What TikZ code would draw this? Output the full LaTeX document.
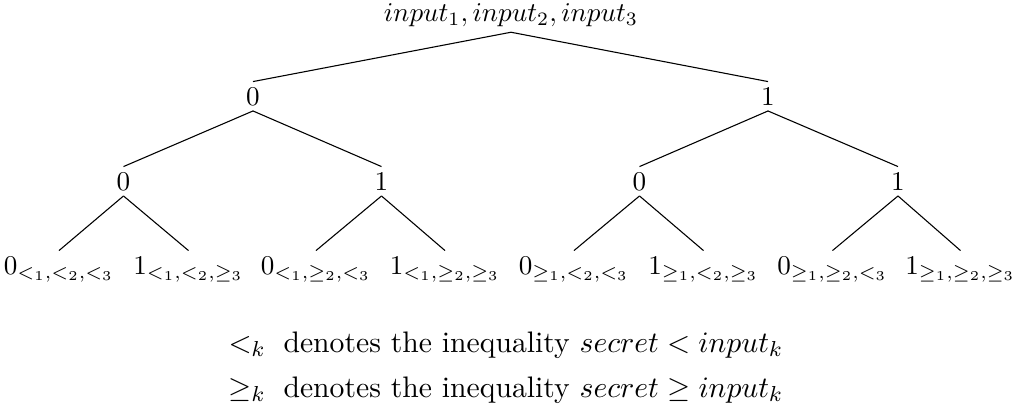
\documentclass[tikz,border=0pt]{standalone}
\begin{document}
\begin{tikzpicture}[x=0.369pt,y=-0.369pt,
  rootnode/.style={font=\normalsize, inner sep=2pt, anchor=base},
  tnode/.style={font=\normalsize, inner sep=2pt, anchor=base},
  legend/.style={anchor=base west, inner sep=0pt, font=\fontsize{10.95}{13.6}\selectfont},
  edge/.style={draw=black, line width=0.4pt}]
\useasboundingbox (0,0) rectangle (1015,413);
% root
\node[rootnode] (r) at (511,21) {$input_1, input_2, input_3$};
% level 1
\node[tnode] (a0) at (253,105) {$0$};
\node[tnode] (a1) at (768,105) {$1$};
% level 2
\node[tnode] (b00) at (123.5,190) {$0$};
\node[tnode] (b01) at (381.5,190) {$1$};
\node[tnode] (b10) at (639.5,190) {$0$};
\node[tnode] (b11) at (898,190) {$1$};
% leaves
\node[tnode] (c000) at (59,274) {$0_{<_1,<_2,<_3}$};
\node[tnode] (c001) at (188.5,274) {$1_{<_1,<_2,\geq_3}$};
\node[tnode] (c010) at (316,274) {$0_{<_1,\geq_2,<_3}$};
\node[tnode] (c011) at (445,274) {$1_{<_1,\geq_2,\geq_3}$};
\node[tnode] (c100) at (574,274) {$0_{\geq_1,<_2,<_3}$};
\node[tnode] (c101) at (703.5,274) {$1_{\geq_1,<_2,\geq_3}$};
\node[tnode] (c110) at (832.5,274) {$0_{\geq_1,\geq_2,<_3}$};
\node[tnode] (c111) at (960.5,274) {$1_{\geq_1,\geq_2,\geq_3}$};
% edges
\draw[edge] (r.south) -- (a0.north);
\draw[edge] (r.south) -- (a1.north);
\draw[edge] (a0.south) -- (b00.north);
\draw[edge] (a0.south) -- (b01.north);
\draw[edge] (a1.south) -- (b10.north);
\draw[edge] (a1.south) -- (b11.north);
\draw[edge] (b00.south) -- (c000.north);
\draw[edge] (b00.south) -- (c001.north);
\draw[edge] (b01.south) -- (c010.north);
\draw[edge] (b01.south) -- (c011.north);
\draw[edge] (b10.south) -- (c100.north);
\draw[edge] (b10.south) -- (c101.north);
\draw[edge] (b11.south) -- (c110.north);
\draw[edge] (b11.south) -- (c111.north);
% legend
\node[legend] (l1) at (228,352) {$<_k$};
\node[legend] (t1) at (283,352) {denotes the inequality $secret < input_k$};
\node[legend] (l2) at (228,397) {$\geq_k$};
\node[legend] (t2) at (283,397) {denotes the inequality $secret \geq input_k$};
\end{tikzpicture}
\end{document}
